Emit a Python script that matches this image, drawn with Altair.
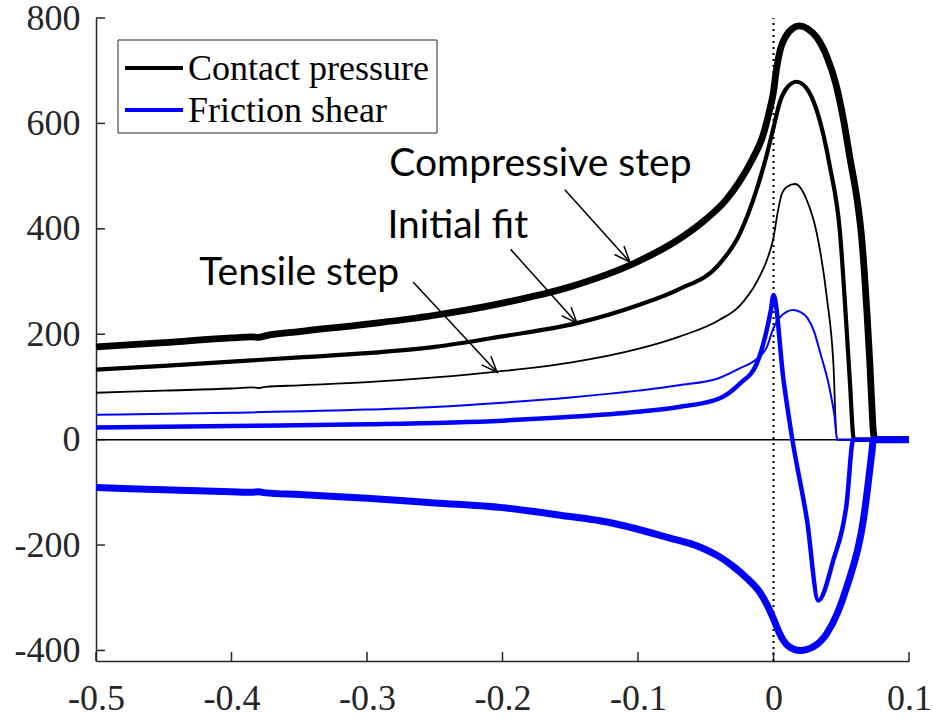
import math
import altair as alt
import pandas as pd

# ---------------- data ----------------
x_ticks = [-0.5, -0.4, -0.3, -0.2, -0.1, 0, 0.1]
y_ticks = [-400, -200, 0, 200, 400, 600, 800]

# Contact pressure - Tensile step (thin black)
cp_tens_x = [-0.5, -0.45, -0.4, -0.385, -0.38, -0.375, -0.35, -0.3, -0.25, -0.204, -0.15, -0.1, -0.07,
             -0.04, -0.025, -0.012, -0.005, 0.0, 0.003, 0.006, 0.01, 0.016, 0.0245, 0.0319, 0.0393, 0.0442,
             0.0467, 0.1]
cp_tens_y = [89, 93, 97, 99, 98, 100, 103, 109, 118, 129, 146, 172, 195,
             227, 254, 301, 340, 383, 430, 465, 480, 485, 455, 392, 271, 144,
             0, 0]

# Contact pressure - Initial fit (medium black)
cp_init_x = [-0.5, -0.45, -0.4, -0.35, -0.3, -0.25, -0.2, -0.145, -0.1, -0.07, -0.04, -0.025, -0.012, -0.005,
             0.0, 0.005, 0.01, 0.017, 0.024, 0.0319, 0.0417, 0.049, 0.054, 0.0565, 0.0589, 0.0595, 0.1]
cp_init_y = [133, 140, 148, 156, 164, 176, 196, 221, 255, 285, 333, 390, 478, 540,
             592, 643, 668, 679, 668, 625, 517, 395, 208, 105, 5, 0, 0]

# Contact pressure - Compressive step (thick black)
cp_comp_x = [-0.5, -0.45, -0.4, -0.385, -0.38, -0.375, -0.35, -0.3, -0.25, -0.2, -0.15, -0.1, -0.07, -0.05,
             -0.035, -0.025, -0.015, -0.008, -0.003, 0.0, 0.002, 0.005, 0.009, 0.014, 0.019, 0.025, 0.032,
             0.0395, 0.046, 0.0513, 0.0565, 0.062, 0.065, 0.067, 0.069, 0.071, 0.0725, 0.0737, 0.075, 0.1]
cp_comp_y = [176, 184, 193, 195, 194, 197, 205, 219, 236, 259, 290, 338, 380, 418,
             455, 490, 535, 575, 624, 660, 700, 740, 765, 780, 785, 780, 763,
             726, 675, 612, 533, 450, 385, 320, 240, 150, 70, 15, 0, 0]

# Friction shear - Tensile step (thin blue)
fs_tens_x = [-0.5, -0.4, -0.3, -0.25, -0.2, -0.15, -0.1, -0.07, -0.04, -0.025, -0.012, -0.005, 0.0, 0.005,
             0.01, 0.0145, 0.02, 0.025, 0.03, 0.034, 0.0417, 0.045, 0.047, 0.1]
fs_tens_y = [47, 51, 57, 62, 70, 80, 93, 103, 117, 135, 154, 175, 212, 233,
             243, 246, 242, 231, 205, 169, 93, 45, 0, 0]

# Friction shear - Initial fit (medium blue)
fs_init_x = [-0.5, -0.4, -0.3, -0.2, -0.158, -0.1, -0.07, -0.04, -0.025, -0.0124, -0.005, -0.002, 0.0,
             0.0074, 0.0136, 0.0248, 0.0331, 0.0441, 0.054, 0.0589, 0.1]
fs_init_y = [23, 26, 29, 36, 42, 53, 62, 78, 106, 144, 208, 245, 274,
             113, 5, -154, -305, -229, -121, 0, 0]

# Friction shear - Compressive step (thick blue)
fs_comp_x = [-0.5, -0.45, -0.4, -0.385, -0.38, -0.375, -0.35, -0.3, -0.25, -0.2, -0.15, -0.128, -0.1, -0.079,
             -0.054, -0.04, -0.03, -0.02, -0.01, -0.005, 0.0, 0.004, 0.0073, 0.012, 0.0196, 0.03, 0.0393,
             0.054, 0.0663, 0.0725, 0.0737, 0.1]
fs_comp_y = [-91, -95, -99, -100, -99, -101, -104, -111, -120, -129, -146, -154, -170, -185,
             -204, -222, -240, -262, -290, -312, -340, -365, -381, -394, -400, -392, -368,
             -280, -153, -26, 0, 0]

# annotations
ann_text = ["Compressive step", "Initial fit", "Tensile step"]
ann_tx = [-0.172, -0.233, -0.350]
ann_ty = [500, 382, 293]
arrow_x0 = [-0.154, -0.194, -0.266]
arrow_y0 = [474, 361, 299]
arrow_x1 = [-0.106, -0.145, -0.204]
arrow_y1 = [337, 221, 128]

legend_labels = ["Contact pressure", "Friction shear"]
legend_colors = ["#000000", "#0000ff"]

# ---------------- layout ----------------
W, H = 813, 643
X_DOM = [-0.5, 0.1]
Y_DOM = [-420, 800]
AX = "#262626"

xs = alt.Scale(domain=X_DOM, nice=False, zero=False)
ys = alt.Scale(domain=Y_DOM, nice=False, zero=False)

x_axis = alt.Axis(values=x_ticks, labelExpr="'' + datum.value", ticks=False, grid=False,
                  domainColor=AX, domainWidth=1.5, labelColor=AX, labelFont="Liberation Serif",
                  labelFontSize=36, labelPadding=20, labelFlush=False, labelOverlap=False, title=None)
y_axis = alt.Axis(values=y_ticks, labelExpr="'' + datum.value", ticks=False, grid=False,
                  domainColor=AX, domainWidth=1.5, labelColor=AX, labelFont="Liberation Serif",
                  labelFontSize=36, labelPadding=16, labelFlush=False, labelOverlap=False, title=None)


def X(field):
    return alt.X(field, type="quantitative", scale=xs, axis=x_axis, title=None)


def Y(field):
    return alt.Y(field, type="quantitative", scale=ys, axis=y_axis, title=None)


layers = []

# inward ticks
ytk = alt.Chart(pd.DataFrame({"y": y_ticks})).mark_rule(color=AX, strokeWidth=1.5).encode(
    y=Y("y"), x=alt.value(0), x2=alt.value(9))
xtk = alt.Chart(pd.DataFrame({"x": x_ticks})).mark_rule(color=AX, strokeWidth=1.5).encode(
    x=X("x"), y=alt.value(H), y2=alt.value(H - 9))
layers += [ytk, xtk]

# zero line
zero = alt.Chart(pd.DataFrame({"x": [X_DOM[0]], "x2": [X_DOM[1]], "y": [0]})).mark_rule(
    color="black", strokeWidth=1.5).encode(x=X("x"), x2="x2:Q", y=Y("y"))
# dotted line at x=0
dot = alt.Chart(pd.DataFrame({"x": [0], "y": [Y_DOM[0]], "y2": [800]})).mark_rule(
    color="black", strokeWidth=2, strokeDash=[2, 4]).encode(x=X("x"), y=Y("y"), y2="y2:Q")
layers += [zero, dot]

series = [
    (cp_tens_x, cp_tens_y, "#000000", 1.8),
    (cp_init_x, cp_init_y, "#000000", 4.2),
    (cp_comp_x, cp_comp_y, "#000000", 6.8),
    (fs_tens_x, fs_tens_y, "#0000ff", 2.0),
    (fs_init_x, fs_init_y, "#0000ff", 4.5),
    (fs_comp_x, fs_comp_y, "#0000ff", 7.0),
]
for i, (sx, sy, col, w) in enumerate(series):
    df = pd.DataFrame({"x": sx, "y": sy, "o": list(range(len(sx)))})
    layers.append(alt.Chart(df).mark_line(color=col, strokeWidth=w, interpolate="monotone",
                                          strokeJoin="round", strokeCap="butt").encode(
        x=X("x"), y=Y("y"), order="o:Q"))

# annotations
ann_df = pd.DataFrame({"t": ann_text, "x": ann_tx, "y": ann_ty})
layers.append(alt.Chart(ann_df).mark_text(font="Lato", fontSize=39, align="center",
                                          baseline="alphabetic", color="black").encode(
    x=X("x"), y=Y("y"), text="t:N"))

kx = W / (X_DOM[1] - X_DOM[0])
ky = H / (Y_DOM[1] - Y_DOM[0])
angs = [math.degrees(math.atan2((a0 - a1) * ky, (b1 - b0) * kx))
        for b0, a0, b1, a1 in zip(arrow_x0, arrow_y0, arrow_x1, arrow_y1)]
arr_df = pd.DataFrame({"x": arrow_x0, "y": arrow_y0, "x1": arrow_x1, "y1": arrow_y1, "ang": angs})
layers.append(alt.Chart(arr_df).mark_rule(color="black", strokeWidth=1.5).encode(
    x=X("x"), y=Y("y"), x2="x1:Q", y2="y1:Q"))
layers.append(alt.Chart(arr_df).mark_point(shape="M -1 -0.4 L 0 0 L -1 0.4", filled=False,
                                           stroke="black", strokeWidth=1.5, size=1000, opacity=1).encode(
    x=X("x1"), y=Y("y1"), angle=alt.Angle("ang:Q", scale=None)))

# legend
one = pd.DataFrame({"a": [0]})
layers.append(alt.Chart(one).mark_rect(fill="white", stroke=AX, strokeWidth=1).encode(
    x=alt.value(22), x2=alt.value(341), y=alt.value(22), y2=alt.value(115)))
for lab, col, py in zip(legend_labels, legend_colors, [50, 92]):
    layers.append(alt.Chart(one).mark_rule(color=col, strokeWidth=4).encode(
        x=alt.value(29), x2=alt.value(87), y=alt.value(py)))
    layers.append(alt.Chart(pd.DataFrame({"t": [lab]})).mark_text(
        font="Liberation Serif", fontSize=36, align="left", baseline="middle", color="black").encode(
        x=alt.value(92), y=alt.value(py + 1), text="t:N"))

chart = alt.layer(*layers).properties(
    width=W, height=H,
    autosize=alt.AutoSizeParams(type="none"),
    padding={"left": 96, "top": 18, "right": 24, "bottom": 60},
).configure_view(strokeWidth=0)

chart.save("out.html", embed_options={"renderer": "svg", "actions": False})
